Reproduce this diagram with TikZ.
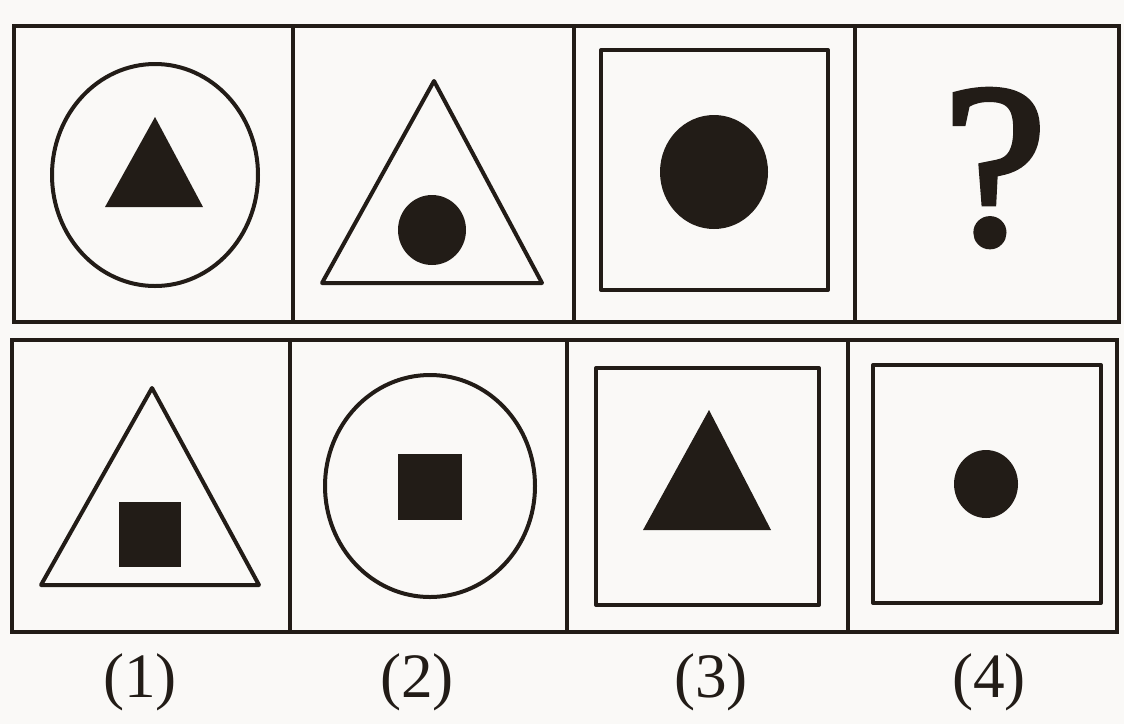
\documentclass[tikz,border=0pt]{standalone}
\usepackage{fontspec}
\setmainfont{Liberation Serif}
\newfontfamily\qfont[FakeBold=2.5]{Liberation Serif}
\definecolor{ink}{HTML}{221C17}
\definecolor{paper}{HTML}{FAF9F7}
\begin{document}
\begin{tikzpicture}[x=0.02cm,y=-0.02cm,
  frame/.style={draw=ink,line width=0.07cm},
  outline/.style={draw=ink,line width=0.08cm,line join=round},
  solid fill/.style={fill=ink},
  lbl/.style={font=\fontsize{36}{36}\selectfont,text=ink,inner sep=0pt}]
\fill[paper] (0,0) rectangle (1124,724);
\useasboundingbox (0,0) rectangle (1124,724);
% top row frame
\draw[frame] (14,26) rectangle (1119,322);
\draw[frame] (293,26) -- (293,322);
\draw[frame] (574,26) -- (574,322);
\draw[frame] (855,26) -- (855,322);
% bottom row frame
\draw[frame] (12,340) rectangle (1117,632);
\draw[frame] (290,340) -- (290,632);
\draw[frame] (567,340) -- (567,632);
\draw[frame] (848,340) -- (848,632);
% top cell 1
\draw[outline] (155,175) ellipse [x radius=103, y radius=111];
\fill[solid fill] (155,117) -- (203,207) -- (105,207) -- cycle;
% top cell 2
\draw[outline] (434,81) -- (542,283) -- (322,283) -- cycle;
\fill[solid fill] (432,230) ellipse [x radius=34, y radius=35];
% top cell 3
\draw[outline] (601,50) rectangle (828,290);
\fill[solid fill] (714,172) ellipse [x radius=54, y radius=57];
% top cell 4
\node[font=\fontsize{132}{132}\qfont,text=ink,inner sep=0pt] (q) at (995,168) {?};
% bottom cell 1
\draw[outline] (152,388) -- (259,585) -- (41,585) -- cycle;
\fill[solid fill] (119,502) rectangle (181,567);
% bottom cell 2
\draw[outline] (430,486) ellipse [x radius=105, y radius=111];
\fill[solid fill] (398,454) rectangle (462,520);
% bottom cell 3
\draw[outline] (596,368) rectangle (819,605);
\fill[solid fill] (709,410) -- (771,530) -- (643,530) -- cycle;
% bottom cell 4
\draw[outline] (873,365) rectangle (1101,603);
\fill[solid fill] (986,484) ellipse [x radius=32, y radius=34];
% labels
\node[lbl] (l1) at (140,682) {(1)};
\node[lbl] (l2) at (417,682) {(2)};
\node[lbl] (l3) at (711,682) {(3)};
\node[lbl] (l4) at (989,682) {(4)};
\end{tikzpicture}
\end{document}
